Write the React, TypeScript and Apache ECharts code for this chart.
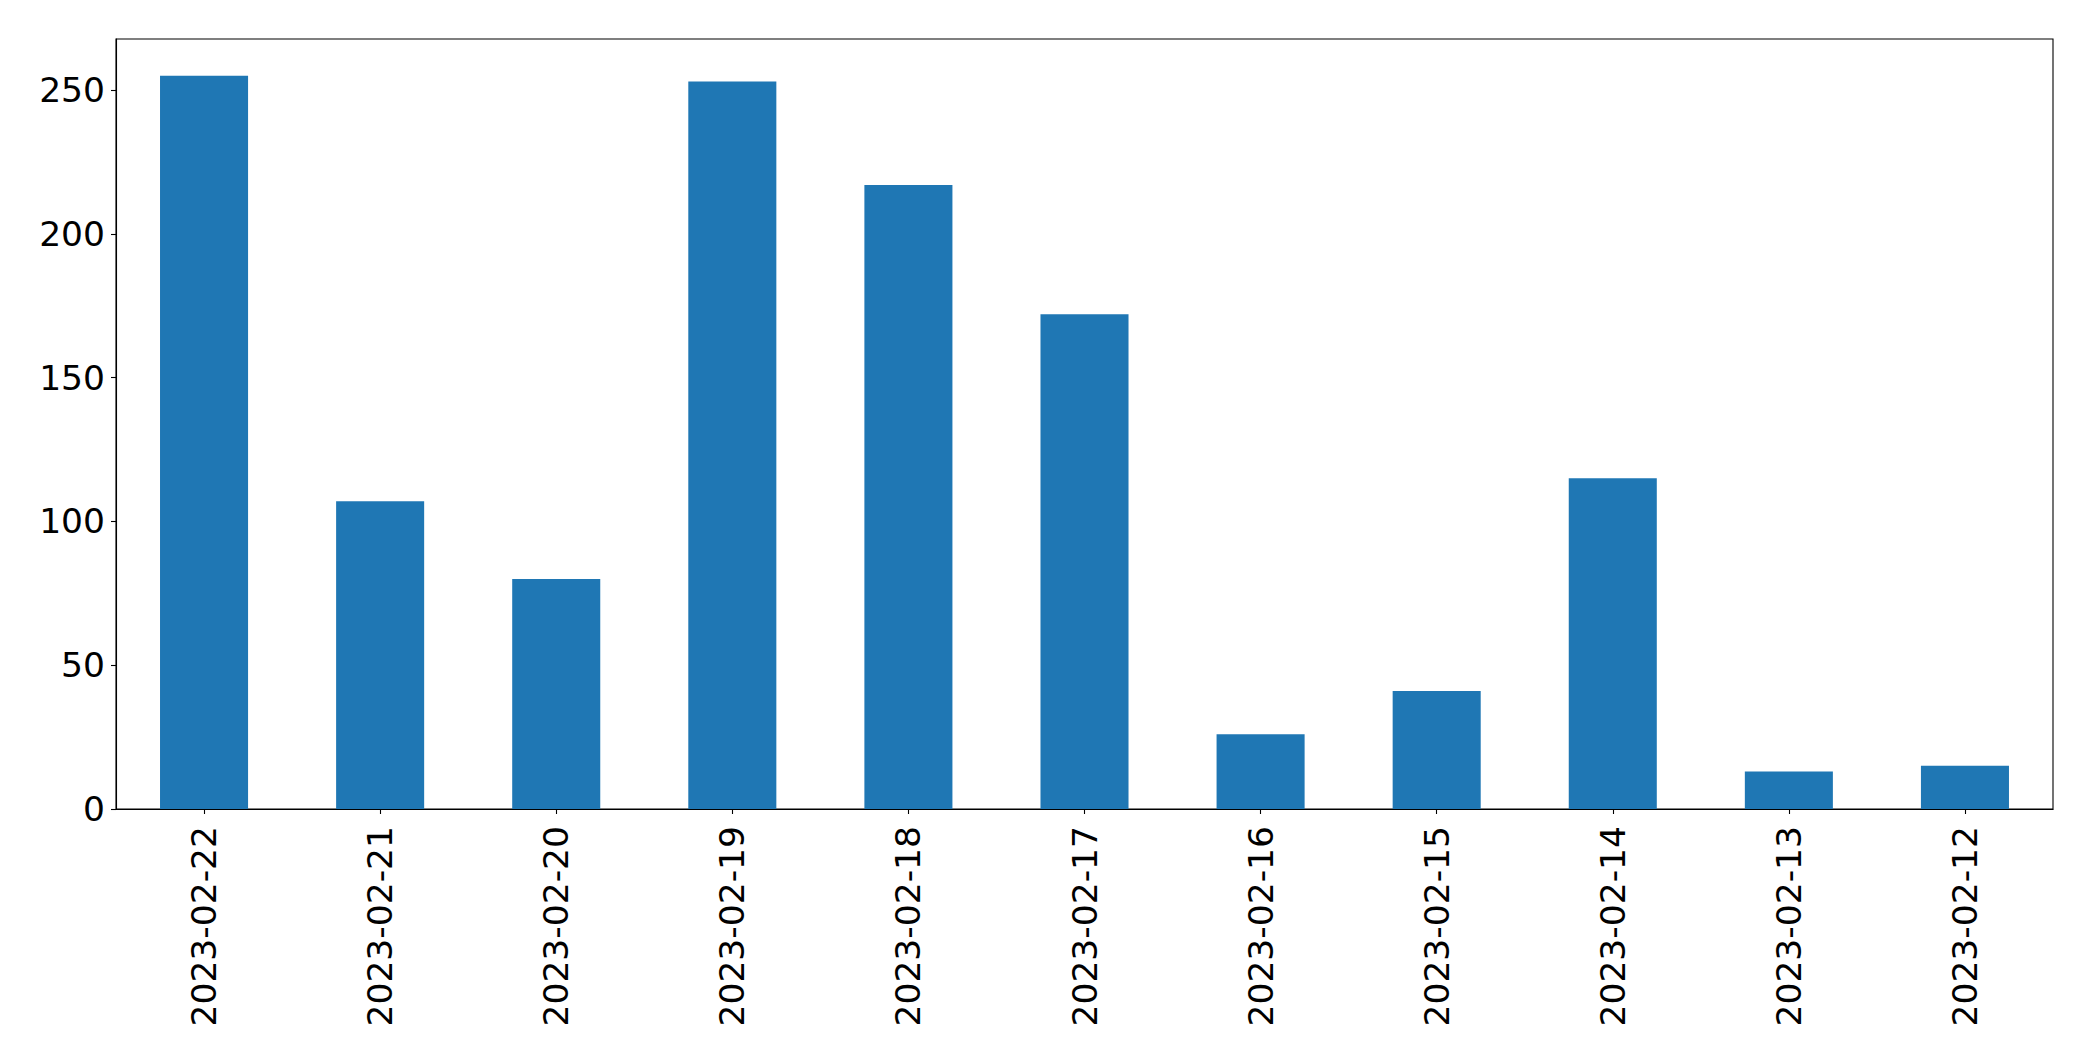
import React, { useEffect, useRef } from "react";
import * as echarts from "echarts";

const categories = [
  "2023-02-22", "2023-02-21", "2023-02-20", "2023-02-19", "2023-02-18", "2023-02-17",
  "2023-02-16", "2023-02-15", "2023-02-14", "2023-02-13", "2023-02-12",
];
const counts = [255, 107, 80, 253, 217, 172, 26, 41, 115, 13, 15];
const yTicks = [0, 50, 100, 150, 200, 250];
const yMax = 267.75;

export default function App() {
  const ref = useRef<HTMLDivElement>(null);
  useEffect(() => {
    if (!ref.current) return;
    const chart = echarts.init(ref.current, undefined, { renderer: "svg" });
    const font = "DejaVu Sans";
    chart.setOption({
      animation: false,
      backgroundColor: "#ffffff",
      grid: {
        left: 116,
        top: 39,
        width: 1937,
        height: 770,
        show: true,
        borderColor: "#000000",
        borderWidth: 1.1,
        containLabel: false,
      },
      xAxis: {
        type: "category",
        data: categories,
        boundaryGap: true,
        axisLine: { show: true, lineStyle: { color: "#000", width: 1.1 } },
        axisTick: { show: true, alignWithLabel: true, length: 5, lineStyle: { color: "#000", width: 1.1 } },
        axisLabel: {
          rotate: 90,
          interval: 0,
          margin: 17,
          color: "#000",
          fontFamily: font,
          fontSize: 34.5,
        },
        splitLine: { show: false },
      },
      yAxis: {
        type: "value",
        min: 0,
        max: yMax,
        interval: 50,
        axisLine: { show: true, lineStyle: { color: "#000", width: 1.1 } },
        axisTick: { show: true, length: 5, customValues: yTicks, lineStyle: { color: "#000", width: 1.1 } },
        axisLabel: {
          customValues: yTicks,
          margin: 11,
          color: "#000",
          fontFamily: font,
          fontSize: 34.5,
        },
        splitLine: { show: false },
      },
      series: [
        {
          type: "bar",
          data: counts,
          barWidth: "50%",
          itemStyle: { color: "#1f77b4" },
        },
      ],
    });
    return () => chart.dispose();
  }, []);
  return (
    <div
      ref={ref}
      style={{ position: "fixed", left: 0, top: 0, width: 2093, height: 1061, background: "#fff" }}
    />
  );
}
